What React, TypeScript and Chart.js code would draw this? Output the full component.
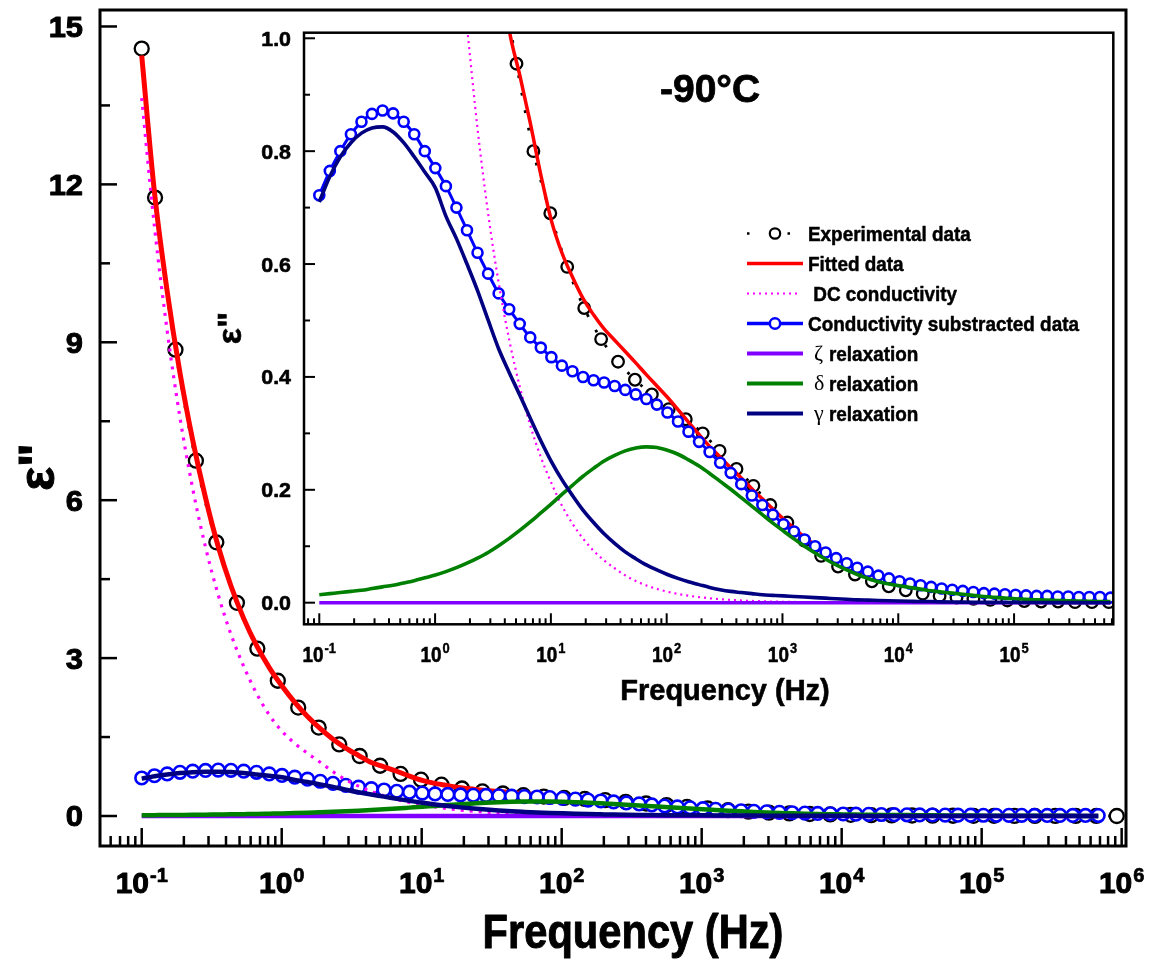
import React, { useEffect, useRef } from "react";
import { Chart, registerables } from "chart.js";
Chart.register(...registerables);

// ---------- DATA ----------
// Experimental data (black circles)
const expFreq = [
  0.1, 0.1245, 0.1742, 0.2438, 0.3412, 0.4786, 0.6699, 0.9376, 1.312, 1.837,
  2.576, 3.606, 5.047, 7.063, 9.886, 13.84, 19.41, 27.16, 38.02, 53.21,
  74.47, 104.2, 146.2, 204.6, 286.4, 400.9, 561.1, 785.3, 1102, 1542,
  2158, 3020, 4227, 5916, 8279, 11610, 16260, 22750, 31840, 44560,
  62370, 87500, 122500, 171400, 239900, 335700, 469900, 658500, 922500,
];
const expVal = [
  14.58, 11.75, 8.86, 6.75, 5.2, 4.05, 3.18, 2.57, 2.06, 1.68,
  1.36, 1.14, 0.955, 0.80, 0.69, 0.595, 0.522, 0.467, 0.427, 0.395,
  0.369, 0.343, 0.325, 0.30, 0.269, 0.237, 0.207, 0.173, 0.142, 0.11,
  0.083, 0.064, 0.05, 0.038, 0.029, 0.022, 0.016, 0.012, 0.009, 0.007,
  0.005, 0.004, 0.003, 0.002, 0.002, 0.001, 0.001, 0.001, 0.0,
];

// Frequency grid for subtracted data and fitted curves
const gridFreq = [
  0.1, 0.1233, 0.152, 0.1876, 0.2314, 0.2854, 0.352, 0.4342, 0.5356, 0.6606,
  0.8147, 1.005, 1.24, 1.529, 1.886, 2.326, 2.869, 3.539, 4.365, 5.383,
  6.637, 8.186, 10.1, 12.45, 15.36, 18.95, 23.37, 28.82, 35.55, 43.85,
  54.08, 66.7, 82.27, 101.5, 125.2, 154.3, 190.4, 234.8, 289.6, 357.2,
  440.6, 543.4, 670.3, 826.7, 1020, 1258, 1551, 1913, 2360, 2910,
  3589, 4427, 5461, 6735, 8308, 10250, 12640, 15590, 19220, 23710,
  29240, 36070, 44490, 54870, 67680, 83480, 102900, 127000, 156600, 193200,
  238300, 293900, 362500, 447100, 551400, 680100,
];
// Conductivity substracted data (blue circles)
const subVal = [
  0.722, 0.765, 0.80, 0.83, 0.852, 0.866, 0.872, 0.867, 0.852, 0.83,
  0.80, 0.77, 0.738, 0.70, 0.66, 0.62, 0.583, 0.548, 0.52, 0.494,
  0.47, 0.452, 0.435, 0.42, 0.41, 0.40, 0.394, 0.39, 0.384, 0.377,
  0.369, 0.361, 0.351, 0.337, 0.321, 0.303, 0.285, 0.267, 0.248, 0.23,
  0.21, 0.19, 0.173, 0.156, 0.139, 0.126, 0.112, 0.10, 0.089, 0.079,
  0.07, 0.062, 0.055, 0.048, 0.043, 0.038, 0.034, 0.031, 0.028, 0.025,
  0.023, 0.021, 0.019, 0.017, 0.016, 0.015, 0.014, 0.013, 0.012, 0.012,
  0.011, 0.011, 0.010, 0.010, 0.010, 0.009,
];
// Fitted data (red)
const fitVal = [
  14.45, 11.85, 9.97, 8.42, 7.14, 6.05, 5.12, 4.37, 3.75, 3.24,
  2.82, 2.47, 2.16, 1.89, 1.66, 1.46, 1.29, 1.15, 1.015, 0.935,
  0.85, 0.758, 0.677, 0.62, 0.577, 0.539, 0.51, 0.485, 0.465, 0.445,
  0.425, 0.404, 0.384, 0.364, 0.342, 0.32, 0.298, 0.277, 0.258, 0.239,
  0.221, 0.202, 0.184, 0.166, 0.148, 0.132, 0.116, 0.102, 0.09, 0.079,
  0.069, 0.06, 0.052, 0.046, 0.04, 0.035, 0.031, 0.027, 0.024, 0.021,
  0.019, 0.017, 0.015, 0.013, 0.012, 0.011, 0.010, 0.009, 0.008, 0.007,
  0.007, 0.006, 0.006, 0.005, 0.005, 0.005,
];
// DC conductivity (magenta dotted)
const dcVal = [
  13.64, 11.2, 9.22, 7.57, 6.22, 5.11, 4.2, 3.45, 2.84, 2.33,
  1.92, 1.61, 1.38, 1.19, 1.02, 0.84, 0.69, 0.567, 0.466, 0.383,
  0.314, 0.258, 0.212, 0.172, 0.14, 0.1135, 0.092, 0.075, 0.061, 0.0484,
  0.0385, 0.0306, 0.0244, 0.0194, 0.0155, 0.0123, 0.0098, 0.0078, 0.0062, 0.0049,
  0.0039, 0.0031, 0.0025, 0.002, 0.0016, 0.0013, 0.001, 0.0008, 0.0006, 0.0005,
  0.0004, 0.0003, 0.0003, 0.0002, 0.0002, 0.0001, 0.0001, 0.0001, 0.0001, 0,
  0, 0, 0, 0, 0, 0, 0, 0, 0, 0,
  0, 0, 0, 0, 0, 0,
];
// zeta relaxation (purple)
const zetaVal = [
  0, 0, 0, 0, 0, 0, 0, 0, 0, 0,
  0, 0, 0, 0, 0, 0, 0, 0, 0, 0,
  0, 0, 0, 0, 0, 0, 0, 0, 0, 0,
  0, 0, 0, 0, 0, 0, 0, 0, 0, 0,
  0, 0, 0, 0, 0, 0, 0, 0, 0, 0,
  0, 0, 0, 0, 0, 0, 0, 0, 0, 0,
  0, 0, 0, 0, 0, 0, 0, 0, 0, 0,
  0, 0, 0, 0, 0, 0,
];
// delta relaxation (green)
const deltaVal = [
  0.014, 0.016, 0.018, 0.020, 0.022, 0.025, 0.028, 0.031, 0.035, 0.039,
  0.044, 0.049, 0.055, 0.062, 0.070, 0.079, 0.089, 0.101, 0.114, 0.128,
  0.143, 0.159, 0.175, 0.192, 0.208, 0.224, 0.238, 0.251, 0.261, 0.269,
  0.274, 0.276, 0.275, 0.270, 0.263, 0.253, 0.242, 0.229, 0.215, 0.201,
  0.186, 0.171, 0.156, 0.141, 0.127, 0.113, 0.100, 0.088, 0.077, 0.067,
  0.058, 0.050, 0.043, 0.037, 0.033, 0.030, 0.027, 0.024, 0.021, 0.019,
  0.017, 0.015, 0.013, 0.011, 0.0095, 0.008, 0.007, 0.006, 0.005, 0.0045,
  0.004, 0.0035, 0.003, 0.0025, 0.002, 0.002,
];
// gamma relaxation (navy)
const gammaVal = [
  0.71, 0.755, 0.79, 0.815, 0.832, 0.841, 0.843, 0.834, 0.815, 0.79,
  0.763, 0.735, 0.685, 0.645, 0.60, 0.553, 0.501, 0.45, 0.408, 0.368,
  0.327, 0.287, 0.25, 0.218, 0.19, 0.164, 0.142, 0.122, 0.105, 0.09,
  0.078, 0.067, 0.058, 0.05, 0.043, 0.037, 0.032, 0.027, 0.023, 0.02,
  0.018, 0.016, 0.014, 0.013, 0.012, 0.011, 0.01, 0.009, 0.008, 0.007,
  0.006, 0.005, 0.0045, 0.004, 0.0035, 0.003, 0.0025, 0.002, 0.002, 0.0015,
  0.0012, 0.001, 0.0008, 0.0006, 0.0005, 0.0004, 0.0003, 0.0003, 0.0002, 0.0002,
  0.0001, 0.0001, 0.0001, 0, 0, 0,
];

// Tick labels
const mainXTicks = [0.1, 1, 10, 100, 1000, 10000, 100000, 1000000];
const mainXExp = ["-1", "0", "1", "2", "3", "4", "5", "6"];
const mainYTicks = [0, 3, 6, 9, 12, 15];
const insetXTicks = [0.1, 1, 10, 100, 1000, 10000, 100000];
const insetXExp = ["-1", "0", "1", "2", "3", "4", "5"];
const insetYTicks = [0, 0.2, 0.4, 0.6, 0.8, 1.0];
const insetYLabels = ["0.0", "0.2", "0.4", "0.6", "0.8", "1.0"];
const legendLabels = [
  "Experimental data",
  "Fitted data",
  " DC conductivity",
  "Conductivity substracted data",
  "\u03B6 relaxation",
  "\u03B4 relaxation",
  "\u03B3 relaxation",
];
const xTitle = "Frequency (Hz)";
const yTitle = "\u03B5\"";
const tempLabel = "-90\u00B0C";

// ---------- HELPERS ----------
const SANS = "'Liberation Sans', Arial, Helvetica, sans-serif";
const SERIF = "'Liberation Serif', 'Times New Roman', serif";

const COLORS = {
  exp: "#000000",
  fit: "#ff0000",
  dc: "#ff00ff",
  sub: "#0000ff",
  zeta: "#8000ff",
  delta: "#008000",
  gamma: "#000080",
};

function pts(xs: number[], ys: number[]) {
  return xs.map((x, i) => ({ x, y: ys[i] }));
}

function text(ctx: CanvasRenderingContext2D, s: string, x: number, y: number, font: string, align: string, sx = 1, heavy = 0) {
  ctx.save();
  ctx.font = font;
  ctx.textAlign = "left";
  ctx.textBaseline = "alphabetic";
  const w = ctx.measureText(s).width * sx;
  let x0 = x;
  if (align === "center") x0 = x - w / 2;
  else if (align === "right") x0 = x - w;
  ctx.translate(x0, y);
  ctx.scale(sx, 1);
  ctx.fillText(s, 0, 0);
  if (heavy > 0) {
    ctx.lineWidth = heavy;
    ctx.strokeStyle = ctx.fillStyle as string;
    ctx.lineJoin = "round";
    ctx.strokeText(s, 0, 0);
  }
  ctx.restore();
  return w;
}

function powerLabel(ctx: CanvasRenderingContext2D, x: number, y: number, exp: string, bf: string, ef: string, raise: number, sx = 1, heavy = 0) {
  ctx.save();
  ctx.font = bf;
  const wb = ctx.measureText("10").width * sx;
  ctx.font = ef;
  const we = ctx.measureText(exp).width * sx;
  ctx.restore();
  const gap = 1;
  const x0 = x - (wb + gap + we) / 2;
  text(ctx, "10", x0, y, bf, "left", sx, heavy);
  text(ctx, exp, x0 + wb + gap, y - raise, ef, "left", sx, heavy * 0.7);
}

function rotText(ctx: CanvasRenderingContext2D, s: string, cx: number, cy: number, font: string, heavy = 0) {
  ctx.save();
  ctx.translate(cx, cy);
  ctx.rotate(-Math.PI / 2);
  ctx.font = font;
  ctx.textAlign = "center";
  ctx.textBaseline = "middle";
  ctx.fillText(s, 0, 0);
  if (heavy > 0) {
    ctx.lineWidth = heavy;
    ctx.strokeStyle = ctx.fillStyle as string;
    ctx.strokeText(s, 0, 0);
  }
  ctx.restore();
}

function seg(ctx: CanvasRenderingContext2D, x1: number, y1: number, x2: number, y2: number) {
  ctx.beginPath();
  ctx.moveTo(x1, y1);
  ctx.lineTo(x2, y2);
  ctx.stroke();
}

function logTicks(ctx: CanvasRenderingContext2D, xs: any, a: any, major: number, minor: number) {
  for (let d = -3; d <= 7; d++) {
    for (let m = 1; m <= 9; m++) {
      const v = m * Math.pow(10, d);
      if (v < xs.min * 0.999 || v > xs.max * 1.001) continue;
      const px = xs.getPixelForValue(v);
      if (px < a.left + 1 || px > a.right - 1) continue;
      seg(ctx, px, a.bottom, px, a.bottom - (m === 1 ? major : minor));
    }
  }
}

function buildDatasets(s: any) {
  const base = { pointRadius: 0, cubicInterpolationMode: "monotone", fill: false, clip: s.clip };
  return [
    { ...base, label: "gamma", data: pts(gridFreq, gammaVal), borderColor: COLORS.gamma, borderWidth: s.lw, order: 0 },
    { ...base, label: "delta", data: pts(gridFreq, deltaVal), borderColor: COLORS.delta, borderWidth: s.lw, order: 1 },
    { ...base, label: "zeta", data: pts(gridFreq, zetaVal), borderColor: COLORS.zeta, borderWidth: s.lw, order: 2 },
    { ...base, label: "dc", data: pts(gridFreq, dcVal), borderColor: COLORS.dc, borderWidth: s.dcW, borderDash: s.dcDash, order: 3 },
    {
      ...base, label: "sub", data: pts(gridFreq, subVal), borderColor: COLORS.sub, borderWidth: s.subLine,
      pointRadius: s.subR, pointBorderWidth: s.subBW, pointBorderColor: COLORS.sub, pointBackgroundColor: "#ffffff", order: 4,
    },
    { ...base, label: "fit", data: pts(gridFreq, fitVal), borderColor: COLORS.fit, borderWidth: s.fitW, order: 5 },
    {
      ...base, label: "exp", data: pts(expFreq, expVal), borderColor: COLORS.exp, borderWidth: s.expLine, borderDash: s.expDash,
      pointRadius: s.expR, pointBorderWidth: s.expBW, pointBorderColor: COLORS.exp, pointBackgroundColor: "#ffffff", order: 6,
    },
  ];
}

// ---------- MAIN CHART ----------
const mainDecor = {
  id: "mainDecor",
  beforeDraw(chart: any) {
    const ctx = chart.ctx;
    ctx.save();
    ctx.fillStyle = "#ffffff";
    ctx.fillRect(0, 0, chart.width, chart.height);
    ctx.restore();
  },
  afterDraw(chart: any) {
    const { ctx, chartArea: a, scales } = chart;
    const xs = scales.x, ys = scales.y;
    ctx.save();
    ctx.strokeStyle = "#000";
    ctx.fillStyle = "#000";
    ctx.lineWidth = 3;
    ctx.strokeRect(a.left, a.top, a.right - a.left, a.bottom - a.top);
    ctx.lineWidth = 2.5;
    logTicks(ctx, xs, a, 18, 10);
    for (let v = 0; v <= 15; v += 1.5) {
      const py = ys.getPixelForValue(v);
      const maj = Math.abs(v / 3 - Math.round(v / 3)) < 1e-6;
      seg(ctx, a.left, py, a.left + (maj ? 17 : 10), py);
    }
    const yf = `bold 30px ${SANS}`;
    mainYTicks.forEach((v) => {
      const py = ys.getPixelForValue(v);
      text(ctx, String(v), 83, py + 10.5, yf, "right", 1.03, 1);
    });
    mainXTicks.forEach((v, i) => {
      const px = xs.getPixelForValue(v);
      powerLabel(ctx, px, 893, mainXExp[i], `bold 30px ${SANS}`, `bold 20px ${SANS}`, 11, 1, 1);
    });
    text(ctx, xTitle, 633, 948, `bold 49px ${SANS}`, "center", 0.85, 1);
    rotText(ctx, yTitle, 40, 467, `bold 50px ${SANS}`, 1);
    ctx.restore();
  },
};

// ---------- INSET CHART ----------
const insetDecor = {
  id: "insetDecor",
  beforeDraw(chart: any) {
    const { ctx, chartArea: a } = chart;
    ctx.save();
    ctx.fillStyle = "#ffffff";
    ctx.fillRect(a.left - 1, a.top - 1, a.right - a.left + 2, a.bottom - a.top + 2);
    ctx.restore();
  },
  afterDraw(chart: any) {
    const { ctx, chartArea: a, scales } = chart;
    const xs = scales.x, ys = scales.y;
    ctx.save();
    ctx.strokeStyle = "#000";
    ctx.fillStyle = "#000";
    ctx.lineWidth = 2.5;
    ctx.strokeRect(a.left, a.top, a.right - a.left, a.bottom - a.top);
    ctx.lineWidth = 2;
    logTicks(ctx, xs, a, 11, 6);
    for (let k = 0; k <= 10; k++) {
      const v = k / 10;
      const py = ys.getPixelForValue(v);
      seg(ctx, a.left, py, a.left + (k % 2 === 0 ? 11 : 6), py);
    }
    const yf = `bold 21px ${SANS}`;
    insetYTicks.forEach((v, i) => {
      const py = ys.getPixelForValue(v);
      text(ctx, insetYLabels[i], 291, py + 7.5, yf, "right", 1.02, 0.6);
    });
    insetXTicks.forEach((v, i) => {
      const px = xs.getPixelForValue(v);
      powerLabel(ctx, px, 662, insetXExp[i], `bold 22px ${SANS}`, `bold 15px ${SANS}`, 9, 0.86, 0.6);
    });
    text(ctx, xTitle, 725, 700, `bold 29px ${SANS}`, "center", 1, 0.6);
    rotText(ctx, yTitle, 232, 328, `bold 34px ${SANS}`, 0.6);
    text(ctx, tempLabel, 660, 101.5, `bold 39px ${SANS}`, "left", 1, 0.8);

    // legend
    const x1 = 747, x2 = 803, tx = 808;
    const lf = `bold 21px ${SANS}`;
    const gf = `22px ${SERIF}`;
    legendLabels.forEach((lab, i) => {
      const yc = 233.5 + 30 * i;
      ctx.save();
      if (i === 0) {
        ctx.fillStyle = COLORS.exp;
        ctx.fillRect(747, yc - 1.25, 2.5, 2.5);
        ctx.fillRect(787.5, yc - 1.25, 2.5, 2.5);
        ctx.strokeStyle = COLORS.exp;
        ctx.lineWidth = 2.2;
        ctx.beginPath();
        ctx.arc(775, yc, 5.2, 0, Math.PI * 2);
        ctx.stroke();
      } else if (i === 1) {
        ctx.strokeStyle = COLORS.fit; ctx.lineWidth = 3.5; seg(ctx, x1, yc, x2, yc);
      } else if (i === 2) {
        ctx.strokeStyle = COLORS.dc; ctx.lineWidth = 2; ctx.setLineDash([2, 4]); seg(ctx, x1, yc, x2 - 3, yc);
      } else if (i === 3) {
        ctx.strokeStyle = COLORS.sub; ctx.lineWidth = 3.5; seg(ctx, x1, yc, x2, yc);
        ctx.fillStyle = "#fff"; ctx.lineWidth = 2.5;
        ctx.beginPath(); ctx.arc(775, yc, 5.2, 0, Math.PI * 2); ctx.fill(); ctx.stroke();
      } else {
        const col = i === 4 ? COLORS.zeta : i === 5 ? COLORS.delta : COLORS.gamma;
        ctx.strokeStyle = col; ctx.lineWidth = 4; seg(ctx, x1, yc, x2, yc);
      }
      ctx.restore();
      ctx.fillStyle = "#000";
      if (i >= 4) {
        text(ctx, lab.charAt(0), 814, yc + 6, gf, "left");
        text(ctx, lab.slice(2), 829, yc + 7.5, lf, "left", 0.9, 0.5);
      } else {
        text(ctx, lab, tx, yc + 7.5, lf, "left", 0.9, 0.5);
      }
    });
    ctx.restore();
  },
};

export default function App() {
  const mainRef = useRef<HTMLCanvasElement>(null);
  const insetRef = useRef<HTMLCanvasElement>(null);

  useEffect(() => {
    const mainChart = new Chart(mainRef.current as HTMLCanvasElement, {
      type: "line",
      data: {
        datasets: buildDatasets({
          clip: 0, lw: 4.5, dcW: 3.2, dcDash: [3, 6], subLine: 3, subR: 6.3, subBW: 2.6,
          fitW: 5, expLine: 3, expDash: [3, 17], expR: 7, expBW: 2.3,
        }) as any,
      },
      options: {
        animation: false,
        responsive: false,
        events: [],
        layout: { padding: { left: 100, top: 10, right: 24, bottom: 115 } },
        plugins: { legend: { display: false }, tooltip: { enabled: false }, title: { display: false } },
        scales: {
          x: { type: "logarithmic", min: Math.pow(10, -1.298), max: Math.pow(10, 6.031), display: false },
          y: { type: "linear", min: -0.57, max: 15.313, display: false },
        },
      } as any,
      plugins: [mainDecor],
    });

    const insetChart = new Chart(insetRef.current as HTMLCanvasElement, {
      type: "line",
      data: {
        datasets: buildDatasets({
          clip: 0, lw: 3.6, dcW: 2.2, dcDash: [2, 4], subLine: 3, subR: 5, subBW: 2.6,
          fitW: 3.5, expLine: 2.8, expDash: [2.8, 15], expR: 5.8, expBW: 2.3,
        }) as any,
      },
      options: {
        animation: false,
        responsive: false,
        events: [],
        layout: { padding: { left: 304, top: 32.7, right: 36.7, bottom: 336.7 } },
        plugins: { legend: { display: false }, tooltip: { enabled: false }, title: { display: false } },
        scales: {
          x: { type: "logarithmic", min: Math.pow(10, -1.132), max: Math.pow(10, 5.857), display: false },
          y: { type: "linear", min: -0.0383, max: 1.0099, display: false },
        },
      } as any,
      plugins: [insetDecor],
    });

    return () => {
      mainChart.destroy();
      insetChart.destroy();
    };
  }, []);

  const cs: React.CSSProperties = { position: "absolute", left: 0, top: 0, width: 1150, height: 961 };
  return (
    <div style={{ position: "absolute", left: 0, top: 0, width: 1150, height: 961, background: "#fff" }}>
      <canvas ref={mainRef} width={1150} height={961} style={cs} />
      <canvas ref={insetRef} width={1150} height={961} style={cs} />
    </div>
  );
}
